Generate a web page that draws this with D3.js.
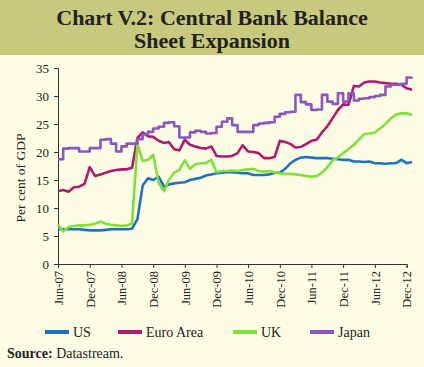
<!DOCTYPE html>
<html><head><meta charset="utf-8">
<script src="https://cdn.jsdelivr.net/npm/d3@7"></script>
<style>
html,body{margin:0;padding:0;background:#fdfde6;}
svg{display:block;}
</style></head>
<body>
<script>
// ---- data ----
const startMonth = new Date(2007, 5, 1);   // Jun-07
const endMonth = new Date(2013, 1, 1);     // exclusive (last point Jan-13)
const months = d3.timeMonth.range(startMonth, endMonth);
const tickLabels = ["Jun-07","Dec-07","Jun-08","Dec-08","Jun-09","Dec-09","Jun-10","Dec-10","Jun-11","Dec-11","Jun-12","Dec-12"];
const yTicks = [0,5,10,15,20,25,30,35];
const seriesNames = ["US","Euro Area","UK","Japan"];

const us = [6.2,6.2,6.2,6.2,6.2,6.1,6.0,6.0,6.0,6.1,6.2,6.2,6.2,6.2,6.3,8.0,14.0,15.3,15.0,15.6,
  13.8,14.2,14.4,14.5,14.6,15.0,15.2,15.4,15.8,16.0,16.2,16.3,16.4,16.4,16.3,16.2,16.2,15.9,15.9,15.9,
  16.0,16.3,16.3,17.0,18.0,18.6,19.0,19.1,19.0,18.9,18.9,18.9,18.8,18.7,18.6,18.6,18.3,18.3,18.2,18.3,
  18.0,18.0,17.9,18.0,18.0,18.6,18.0,18.2];
const euro = [13.0,13.2,12.9,13.7,13.8,14.3,17.3,15.7,16.0,16.3,16.6,16.8,16.9,16.9,17.2,22.5,23.5,22.8,22.7,22.0,
  21.6,21.8,20.5,20.3,22.2,21.3,21.0,20.7,20.6,21.0,19.3,19.2,19.2,19.3,19.8,21.2,20.1,20.0,19.8,18.9,
  18.9,19.1,22.0,21.8,21.4,20.8,20.9,21.4,22.0,22.2,23.5,24.6,26.0,27.5,28.5,28.4,31.8,31.7,32.4,32.6,
  32.6,32.4,32.3,32.2,32.2,32.0,31.4,31.1];
const uk = [7.0,5.8,6.6,6.8,6.9,6.9,7.0,7.2,7.6,7.2,7.0,6.9,6.8,6.9,7.2,21.5,18.4,18.6,19.5,14.5,
  13.0,15.0,16.3,16.8,18.5,17.0,17.8,18.0,18.0,18.6,16.4,16.6,16.6,16.7,16.6,16.8,16.9,17.0,16.6,16.5,
  16.6,16.4,16.2,16.1,16.1,16.0,15.9,15.7,15.6,15.7,16.3,17.3,18.5,19.0,19.8,20.5,21.3,22.2,23.2,23.3,
  23.5,24.2,25.0,26.0,26.7,26.9,26.9,26.6];
const japan = [18.7,20.6,20.7,20.7,20.1,20.1,20.7,20.7,22.2,22.3,21.5,20.1,21.0,21.5,21.5,22.3,23.2,23.6,24.2,24.5,
  25.2,25.3,24.6,22.6,22.6,23.5,23.8,23.6,23.3,23.4,24.5,25.4,26.0,24.8,23.6,23.6,23.6,24.8,25.1,25.2,
  25.3,26.3,26.8,27.1,27.2,30.2,28.9,28.5,27.5,27.6,30.2,29.0,28.6,30.5,29.0,30.5,29.2,29.5,29.6,29.8,
  30.0,30.2,31.7,32.0,32.0,32.2,33.3,33.4];
const seriesValues = [us, euro, uk, japan];
const colors = ["#1f70c8","#b3186f","#7fe03a","#8b55c2"];

// ---- layout ----
const W = 424, H = 367;
const svg = d3.select("body").append("svg").attr("width", W).attr("height", H)
  .style("font-family", "'Liberation Serif','Times New Roman',serif");

svg.append("rect").attr("x",0).attr("y",0).attr("width",W).attr("height",H).attr("fill","#fdfde6");
svg.append("rect").attr("x",0).attr("y",0).attr("width",W).attr("height",55).attr("fill","#c9c97e");

svg.append("text").attr("x",212).attr("y",25).attr("text-anchor","middle")
  .attr("font-size",22).attr("font-weight","bold").attr("fill","#222")
  .text("Chart V.2: Central Bank Balance");
svg.append("text").attr("x",212).attr("y",48).attr("text-anchor","middle")
  .attr("font-size",22).attr("font-weight","bold").attr("fill","#222")
  .text("Sheet Expansion");

const x = d3.scaleTime().domain([startMonth, new Date(2012, 11, 1)]).range([58, 406.6]);
const y = d3.scaleLinear().domain([0, 35]).range([264, 68]);

// axes
const yAxis = svg.append("g").attr("transform","translate(58,0)")
  .call(d3.axisLeft(y).tickValues(yTicks).tickSize(4).tickPadding(5));
yAxis.selectAll("text").attr("font-size",13).attr("fill","#222")
  .style("font-family","'Liberation Serif',serif");
yAxis.selectAll("line,path").attr("stroke","#333");

const tickDates = tickLabels.map((t,i) => d3.timeMonth.offset(startMonth, i*6));
const xAxis = svg.append("g").attr("transform","translate(0,264)")
  .call(d3.axisBottom(x).tickValues(tickDates).tickSize(4).tickFormat((d,i)=>tickLabels[i]));
xAxis.selectAll("line,path").attr("stroke","#333");
xAxis.selectAll("text").attr("font-size",12.5).attr("fill","#222")
  .style("font-family","'Liberation Serif',serif")
  .attr("text-anchor","end").attr("transform","rotate(-90)")
  .attr("x",-7).attr("y",0).attr("dy","0.35em");

svg.append("text").attr("transform","translate(25,178) rotate(-90)")
  .attr("text-anchor","middle").attr("font-size",13.5).attr("fill","#222")
  .text("Per cent of GDP");

// lines
seriesValues.forEach((vals, si) => {
  const line = d3.line()
    .x((d,i) => x(months[i]))
    .y(d => y(d))
    .curve(si === 3 ? d3.curveStepAfter : d3.curveLinear);
  svg.append("path").datum(vals).attr("d", line)
    .attr("fill","none").attr("stroke", colors[si]).attr("stroke-width", 2.6)
    .attr("stroke-linejoin","round");
});

// legend
const legX = [45, 118, 233, 310];
const leg = svg.append("g");
seriesNames.forEach((n, i) => {
  leg.append("line").attr("x1", legX[i]).attr("x2", legX[i]+24)
    .attr("y1", 332).attr("y2", 332).attr("stroke", colors[i]).attr("stroke-width", 4);
  leg.append("text").attr("x", legX[i]+28).attr("y", 337)
    .attr("font-size", 14).attr("fill","#222").text(n);
});

// source
const src = svg.append("text").attr("x",7).attr("y",358).attr("font-size",14).attr("fill","#222");
src.append("tspan").attr("font-weight","bold").text("Source:");
src.append("tspan").text(" Datastream.");
</script>
</body></html>
